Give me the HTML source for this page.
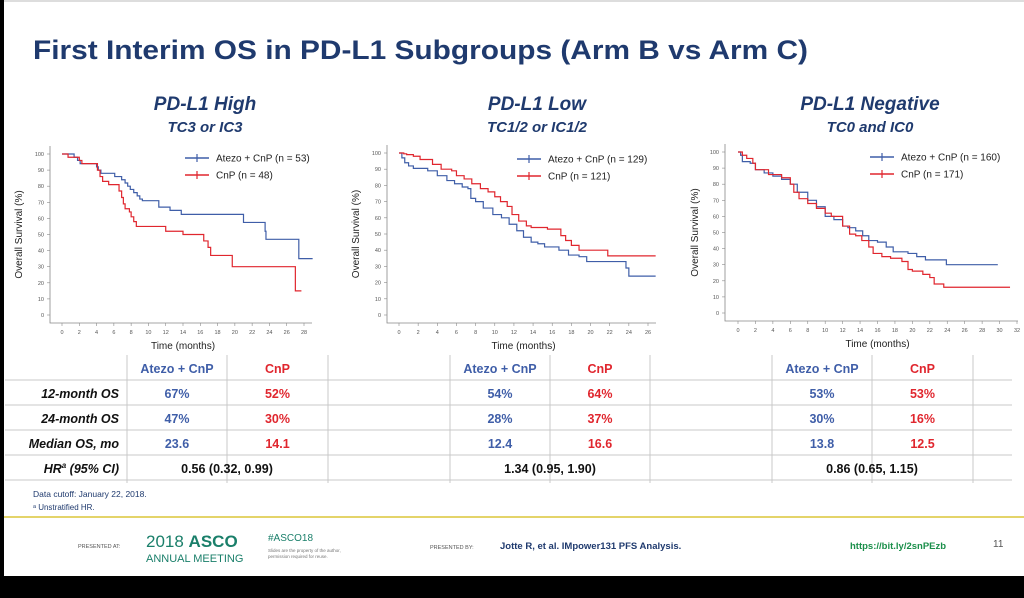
<!DOCTYPE html>
<html><head><meta charset="utf-8"><style>
body{margin:0;background:#000}
svg{display:block;font-family:"Liberation Sans",Arial,sans-serif}
</style></head><body>
<svg id="s" width="1024" height="598" viewBox="0 0 1024 598">
<rect x="0" y="0" width="1024" height="598" fill="#000"/>
<rect x="4" y="0" width="1020" height="576" fill="#fff"/>
<line x1="4" y1="1" x2="1024" y2="1" stroke="#bbb"/>
<text x="33" y="59" font-size="27" font-weight="bold" fill="#1f3a6e" textLength="775" lengthAdjust="spacingAndGlyphs">First Interim OS in PD-L1 Subgroups (Arm B vs Arm C)</text>
<g id="charts"></g>
<g id="table"></g>
<text x="33" y="497" font-size="8.5" fill="#1f3a6e">Data cutoff: January 22, 2018.</text>
<text x="33" y="510" font-size="8" fill="#1f3a6e">ᵃ Unstratified HR.</text>
<line x1="4" y1="517" x2="1024" y2="517" stroke="#e4d46a" stroke-width="2"/>
<text x="78" y="548" font-size="5.5" fill="#555">PRESENTED AT:</text>
<text x="146" y="547" font-size="17" fill="#1a7f6a">2018 <tspan font-weight="bold">ASCO</tspan></text>
<text x="146" y="562" font-size="11" fill="#1a7f6a">ANNUAL MEETING</text>
<text x="268" y="541" font-size="10" fill="#1a7f6a">#ASCO18</text>
<text x="268" y="552" font-size="4.5" fill="#777">Slides are the property of the author,</text>
<text x="268" y="558" font-size="4.5" fill="#777">permission required for reuse.</text>
<text x="430" y="549" font-size="5.5" fill="#555">PRESENTED BY:</text>
<text x="500" y="549" font-size="9.5" font-weight="bold" fill="#1f3a6e">Jotte R, et al. IMpower131 PFS Analysis.</text>
<text x="850" y="549" font-size="9.5" font-weight="bold" fill="#1a8f4a">https://bit.ly/2snPEzb</text>
<text x="993" y="547" font-size="10" fill="#555">11</text>
</svg>
<script>
// ---- chart data ----
const panelTitles=["PD-L1 High","PD-L1 Low","PD-L1 Negative"];
const panelSubtitles=["TC3 or IC3","TC1/2 or IC1/2","TC0 and IC0"];
const legendBlue=["Atezo + CnP (n = 53)","Atezo + CnP (n = 129)","Atezo + CnP (n = 160)"];
const legendRed=["CnP (n = 48)","CnP (n = 121)","CnP (n = 171)"];
const xMax=[28,26,32];
const yTicks=[0,10,20,30,40,50,60,70,80,90,100];
const highBlue=[[0,100],[1.4,98],[1.8,96],[2.1,94],[4,92],[4.2,90],[4.5,88],[6.1,86],[6.9,84],[7.3,82],[7.6,80],[7.9,78],[8.3,76],[8.7,74],[9,72],[9.3,71],[11.2,67],[12.5,65],[13.8,62.5],[21,57.5],[23.5,52],[23.6,47],[27.4,35],[29,35]];
const highRed=[[0,100],[0.7,98],[2,96],[2.3,94],[4.1,90],[4.4,86],[4.7,83],[5.4,81],[6.6,77],[6.9,73],[7.1,69],[7.3,66],[7.8,64],[8,61],[8.3,58],[8.6,55],[12,52],[14,50],[16.4,46],[16.9,42],[17.2,37],[19.7,30],[27,15],[27.7,15]];
const lowBlue=[[0,100],[0.3,97],[0.6,94],[1,92],[1.5,90.5],[3,89],[4,86],[5,83],[5.8,81],[6.6,79],[7.2,78],[7.5,72],[8,70],[8.8,66],[9.8,62],[10.7,60],[11.5,56],[12.3,52],[13,48],[13.8,45],[14.5,44],[15.2,42],[16.7,40],[17.7,37],[18.8,36],[19.6,33],[23.7,29],[24,24],[26.8,24]];
const lowRed=[[0,100],[0.5,99.5],[0.8,99],[1.5,98],[2.2,96],[3.5,93],[4.4,90],[5.5,89],[6,86],[6.8,84],[7.6,81],[8.5,78],[9.3,76],[10,73],[10.6,70],[11.3,67],[11.8,62],[12.5,58],[13.3,55],[13.8,54],[15.5,53],[16.9,49],[17.4,46],[18,43],[18.8,40],[21.8,36.5],[26.8,36.5]];
const negBlue=[[0,100],[0.3,98],[0.5,94],[1.4,93],[2,89],[3,87],[4,85],[5,83],[6,80],[6.8,75],[8,70],[9,66],[10,60],[11,58],[12,54],[12.6,53],[13.5,51],[14.3,48],[15,45],[16,44],[17,41],[17.8,38],[19.5,37],[20.5,35],[21.5,33],[23.9,30],[29.8,30]];
const negRed=[[0,100],[0.5,98],[1,96],[1.7,93],[2,89],[3.5,86],[5,84],[6,80],[6.4,75],[7,71],[8,68],[9,65],[10,62],[10.7,60],[12,54],[12.8,49],[13.5,48],[14.2,45],[15,41],[15.5,37],[16.5,35],[17.5,34],[18.8,32],[19.5,27],[20,26],[21.2,24],[22,22],[22.5,18],[23.6,16],[31.2,16]];
const blueSeries=[highBlue,lowBlue,negBlue];
const redSeries=[highRed,lowRed,negRed];
// table data
const rowLabels=["12-month OS","24-month OS","Median OS, mo"];
const blueVals=[["67%","47%","23.6"],["54%","28%","12.4"],["53%","30%","13.8"]];
const redVals=[["52%","30%","14.1"],["64%","37%","16.6"],["53%","16%","12.5"]];
const hrVals=["0.56 (0.32, 0.99)","1.34 (0.95, 1.90)","0.86 (0.65, 1.15)"];

const NS="http://www.w3.org/2000/svg";
const BLUE="#3f5ea8",RED="#e0262e",NAVY="#1f3a6e";
function mk(tag,attrs,parent,txt){const e=document.createElementNS(NS,tag);for(const k in attrs)e.setAttribute(k,attrs[k]);if(txt!==undefined)e.textContent=txt;parent.appendChild(e);return e;}
const L=[{yAx:50,xAxY:323,y100:154,y0:315,x0:62,x1:304,cx:205,legX:185,legY:158,ytx:22},
         {yAx:387,xAxY:323,y100:153,y0:315,x0:399,x1:648,cx:537,legX:517,legY:159,ytx:359},
         {yAx:725,xAxY:321,y100:152,y0:313,x0:738,x1:1017,cx:870,legX:870,legY:157,ytx:698}];
const charts=document.getElementById('charts');
for(let p=0;p<3;p++){
  const l=L[p];
  const g=mk('g',{},charts);
  
  
  const sx=v=>l.x0+(v/xMax[p])*(l.x1-l.x0);
  const sy=v=>l.y0+(v/100)*(l.y100-l.y0);
  const t1=mk('text',{x:l.cx,y:110,'font-size':19,'font-weight':'bold','font-style':'italic',fill:NAVY,'text-anchor':'middle'},g,panelTitles[p]);
  
  
  const t2=mk('text',{x:l.cx,y:132,'font-size':15,'font-weight':'bold','font-style':'italic',fill:NAVY,'text-anchor':'middle'},g,panelSubtitles[p]);
  
  
  const ax=mk('path',{d:`M${l.yAx},${l.y100-8}V${l.xAxY}H${Math.min(sx(xMax[p])+8,1018)}`,stroke:'#888',fill:'none','stroke-width':0.8},g);
  
  
  yTicks.forEach(v=>{
    mk('line',{x1:l.yAx-3,x2:l.yAx,y1:sy(v),y2:sy(v),stroke:'#888','stroke-width':0.6},g);
    const tt=mk('text',{x:l.yAx-6,y:sy(v)+2,'font-size':5.5,fill:'#555','text-anchor':'end'},g,String(v));
    
    
  });
  for(let m=0;m<=xMax[p];m+=2){
    mk('line',{x1:sx(m),x2:sx(m),y1:l.xAxY,y2:l.xAxY+3,stroke:'#888','stroke-width':0.6},g);
    const tt=mk('text',{x:sx(m),y:l.xAxY+11,'font-size':5.5,fill:'#555','text-anchor':'middle'},g,String(m));
    
    
  }
  const xt=mk('text',{x:(l.x0+l.x1)/2,y:l.xAxY+26,'font-size':10,fill:'#222','text-anchor':'middle'},g,'Time (months)');
  
  
  const yc=(l.y100+l.y0)/2;
  const yt=mk('text',{x:l.ytx,y:yc,'font-size':10,fill:'#222','text-anchor':'middle',transform:`rotate(-90 ${l.ytx} ${yc})`},g,'Overall Survival (%)');
  
  
  [[blueSeries[p],BLUE,'atezo'],[redSeries[p],RED,'cnp']].forEach(([s,c,n])=>{
    let d=`M${sx(s[0][0])},${sy(s[0][1])}`;
    for(let i=1;i<s.length;i++){d+=`H${sx(s[i][0])}V${sy(s[i][1])}`;}
    const pa=mk('path',{d,stroke:c,fill:'none','stroke-width':1.2},g);
    
    
  });
  [[legendBlue[p],BLUE,0],[legendRed[p],RED,1]].forEach(([txt,c,i])=>{
    const lg=mk('g',{},g);
    
    
    const y=l.legY+i*17;
    mk('line',{x1:l.legX,x2:l.legX+24,y1:y,y2:y,stroke:c,'stroke-width':1.5},lg);
    mk('line',{x1:l.legX+12,x2:l.legX+12,y1:y-4,y2:y+4,stroke:c,'stroke-width':1.2},lg);
    mk('text',{x:l.legX+31,y:y+3.5,'font-size':10,fill:'#222'},lg,txt);
  });
}
// table
const tb=document.getElementById('table');
const rowsY=[380,405,430,455,480];
rowsY.forEach(y=>{mk('line',{x1:5,x2:1012,y1:y,y2:y,stroke:'#c8c8c8','stroke-width':1},tb);});
const colX=[[127,227,328],[450,550,650],[772,872,973]];
for(let p=0;p<3;p++){
  colX[p].forEach(x=>mk('line',{x1:x,x2:x,y1:355,y2:483,stroke:'#c8c8c8','stroke-width':1},tb));
  const bc=(colX[p][0]+colX[p][1])/2, rc=(colX[p][1]+colX[p][2])/2;
  const h1=mk('text',{x:bc,y:373,'font-size':12.5,'font-weight':'bold',fill:BLUE,'text-anchor':'middle'},tb,'Atezo + CnP');
  
  
  const h2=mk('text',{x:rc,y:373,'font-size':12.5,'font-weight':'bold',fill:RED,'text-anchor':'middle'},tb,'CnP');
  
  
  for(let r=0;r<3;r++){
    const a=mk('text',{x:bc,y:rowsY[r]+18,'font-size':12.5,'font-weight':'bold',fill:BLUE,'text-anchor':'middle'},tb,blueVals[p][r]);
    
    
    const b=mk('text',{x:rc,y:rowsY[r]+18,'font-size':12.5,'font-weight':'bold',fill:RED,'text-anchor':'middle'},tb,redVals[p][r]);
    
    
  }
  const h=mk('text',{x:colX[p][1],y:473,'font-size':12.5,'font-weight':'bold',fill:'#111','text-anchor':'middle'},tb,hrVals[p]);
  
  
}
rowLabels.concat(["HR"]).forEach((t,r)=>{
  const e=mk('text',{x:119,y:rowsY[r]+18,'font-size':12.5,'font-weight':'bold','font-style':'italic',fill:'#111','text-anchor':'end'},tb);
  
  
  if(r<3)e.textContent=t;else{e.textContent='HR';const s=mk('tspan',{'font-size':8,dy:-5},e,'a');mk('tspan',{dy:5},e,' (95% CI)');}
});
</script>
</body></html>
